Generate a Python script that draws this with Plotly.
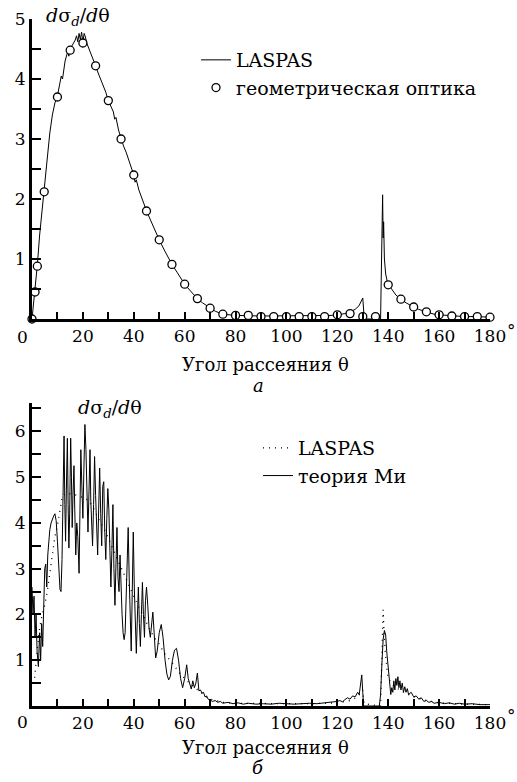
import plotly.graph_objects as go

# ---------------- data ----------------
# Panel a: LASPAS (solid line)
top_laspas_theta = [0, 0.5, 1.2, 2.1, 3, 4, 4.8, 6, 7, 8, 9, 10, 11, 11.5, 12, 12.5, 13, 14, 14.5,
                    15, 16, 17, 17.5, 18, 18.5, 19, 19.5, 20, 20.5, 21, 21.5, 22, 23, 24, 25, 26,
                    27, 28, 29, 30, 31, 32, 32.5, 33, 34, 35, 36, 37, 38, 39, 40, 40.5, 41, 42,
                    43, 44, 45, 46, 47, 48, 49, 50, 52, 55, 57, 60, 62, 65, 67, 70, 72, 75, 80,
                    90, 100, 110, 115, 118, 120, 123, 125, 127, 128.5, 129.5, 130, 130.5, 131,
                    137, 137.5, 137.8, 138, 138.2, 138.5, 139, 139.5, 140, 141, 142, 143, 145,
                    147, 150, 152, 155, 158, 160, 165, 170, 175, 180]
top_laspas_val = [0, 0.2, 0.5, 0.9, 1.4, 1.85, 2.15, 2.7, 3.1, 3.4, 3.6, 3.72, 3.95, 4.05, 4.0,
                  4.2, 4.3, 4.45, 4.38, 4.5, 4.58, 4.65, 4.72, 4.62, 4.76, 4.66, 4.78, 4.62,
                  4.76, 4.7, 4.6, 4.55, 4.45, 4.35, 4.22, 4.1, 4.0, 3.9, 3.78, 3.64, 3.55,
                  3.45, 3.33, 3.36, 3.15, 3.0, 2.88, 2.78, 2.65, 2.52, 2.4, 2.28, 2.32, 2.15,
                  2.05, 1.92, 1.8, 1.7, 1.6, 1.5, 1.4, 1.32, 1.15, 0.91, 0.78, 0.58, 0.48,
                  0.34, 0.27, 0.18, 0.13, 0.08, 0.06, 0.05, 0.05, 0.05, 0.05, 0.06, 0.07,
                  0.09, 0.12, 0.16, 0.22, 0.3, 0.35, 0.05, 0.0, 0.0, 1.0, 2.07, 1.35, 1.62,
                  1.0, 0.75, 0.65, 0.58, 0.52, 0.45, 0.4, 0.33, 0.27, 0.2, 0.16, 0.12, 0.08,
                  0.07, 0.05, 0.04, 0.04, 0.03]

# Panel a: geometrical optics (circles)
top_geo_theta = [0, 1.2, 2.1, 4.8, 10, 15, 20, 25, 30, 35, 40, 45, 50, 55, 60, 65, 70, 75, 80,
                 85, 90, 95, 100, 105, 110, 115, 120, 125, 130, 135, 140, 145, 150, 155, 160,
                 165, 170, 175, 180]
top_geo_val = [0, 0.45, 0.88, 2.12, 3.70, 4.48, 4.6, 4.22, 3.64, 3.0, 2.4, 1.8, 1.32, 0.91,
               0.58, 0.34, 0.18, 0.08, 0.06, 0.06, 0.04, 0.04, 0.04, 0.04, 0.04, 0.04, 0.07,
               0.09, 0.04, 0.04, 0.57, 0.33, 0.2, 0.12, 0.07, 0.05, 0.04, 0.04, 0.03]

# Panel b: Mie theory (solid line)
bot_mie_theta = [0.0, 0.4, 0.8, 1.2, 1.6, 2.0, 2.5, 3.0, 3.4, 3.8, 4.2, 4.6, 5.0, 5.4, 5.8,
                 6.2, 6.6, 7.0, 7.5, 8.0, 8.5, 9.0, 9.5, 10.0, 10.5, 11.0, 11.4, 11.8, 12.2,
                 12.6, 12.9, 13.2, 13.5, 13.9, 14.2, 14.5, 14.8, 15.2, 15.5, 15.8, 16.1, 16.5,
                 16.8, 17.2, 17.6, 18.0, 18.5, 18.9, 19.2, 19.6, 20.0, 20.4, 20.8, 21.2, 21.6,
                 22.0, 22.4, 22.8, 23.1, 23.4, 23.8, 24.2, 24.6, 25.0, 25.4, 25.8, 26.2, 26.6,
                 27.0, 27.4, 27.8, 28.2, 28.6, 29.0, 29.4, 29.8, 30.2, 30.6, 31.0, 31.4, 31.8,
                 32.2, 32.6, 33.0, 33.4, 33.8, 34.2, 34.6, 35.0, 35.4, 35.8, 36.2, 36.6, 37.0,
                 37.4, 37.8, 38.2, 38.6, 39.0, 39.4, 39.8, 40.2, 40.6, 41.0, 41.4, 41.8, 42.2,
                 42.6, 43.0, 43.4, 43.8, 44.2, 44.6, 45.0, 45.5, 46.0, 46.5, 47.0, 47.5, 48.0,
                 48.6, 49.2, 50.0, 50.8, 51.5, 52.3, 53.0, 53.7, 54.4, 55.2, 56.0, 56.8, 57.6,
                 58.4, 59.2, 60.0, 60.8, 61.4, 62.0, 62.6, 63.2, 63.8, 64.4, 65.0, 65.6, 66.2,
                 66.8, 67.4, 68.0, 68.6, 69.2, 70.0, 71, 72, 73, 74, 75, 77, 79, 81, 83, 85,
                 88, 91, 94, 97, 100, 103, 106, 109, 112, 115, 118, 120, 121, 122, 123, 124,
                 125, 126, 127, 128, 128.6, 129.2, 129.6, 130.0, 130.3, 136.5, 137.0, 137.5,
                 138.0, 138.5, 139.0, 139.4, 139.8, 140.2, 140.6, 141.0, 141.4, 141.8, 142.2,
                 142.6, 143.0, 143.4, 143.8, 144.2, 144.6, 145.0, 145.5, 146.0, 146.5, 147.0,
                 147.5, 148.0, 149.0, 150.0, 151, 152, 153, 154, 155, 156, 157, 158, 160, 162,
                 164, 166, 168, 170, 173, 176, 180]
bot_mie_val = [2.6, 2.0, 2.4, 1.5, 2.0, 1.2, 0.86, 1.6, 1.0, 1.8, 1.3, 2.2, 3.0, 3.1, 2.6,
               3.3, 3.6, 3.85, 4.0, 4.1, 4.15, 4.2, 4.05, 3.6, 3.0, 2.55, 2.5, 3.2, 4.6, 5.9,
               4.4, 3.6, 4.7, 5.85, 4.4, 3.45, 4.2, 5.85, 5.0, 3.9, 4.6, 5.25, 4.3, 3.3, 4.0,
               3.7, 2.9, 4.2, 5.6, 4.8, 4.1, 5.2, 6.15, 5.6, 4.6, 3.8, 4.7, 5.6, 4.5, 3.8,
               3.5, 4.4, 5.45, 4.6, 3.6, 3.3, 4.3, 5.2, 4.2, 3.5, 4.8, 4.9, 3.8, 3.2, 4.1,
               4.75, 4.3, 3.3, 2.6, 3.4, 4.4, 3.0, 2.2, 3.1, 3.9, 2.8, 2.5, 3.3, 2.4, 2.0,
               1.6, 1.45, 1.6, 2.4, 3.3, 3.9, 2.8, 1.8, 1.2, 2.5, 3.8, 2.6, 1.5, 1.15, 1.9,
               2.6, 1.8, 1.3, 2.0, 2.7, 2.0, 1.5, 2.3, 2.6, 2.2, 1.7, 1.5, 1.8, 2.05, 1.6,
               1.05, 1.2, 1.6, 1.78, 1.5, 1.0, 0.7, 0.57, 0.65, 1.0, 1.22, 1.26, 1.0, 0.6,
               0.4, 0.6, 0.9, 0.6, 0.45, 0.37, 0.55, 0.4, 0.5, 0.72, 0.33, 0.35, 0.28, 0.3,
               0.2, 0.22, 0.15, 0.13, 0.1, 0.12, 0.08, 0.1, 0.06, 0.08, 0.05, 0.07, 0.04,
               0.06, 0.04, 0.05, 0.04, 0.06, 0.05, 0.04, 0.05, 0.06, 0.05, 0.07, 0.08, 0.1,
               0.12, 0.09, 0.14, 0.18, 0.15, 0.22, 0.2, 0.3, 0.25, 0.45, 0.68, 0.3, 0.0, 0.0,
               0.25, 0.9, 1.45, 1.65, 1.55, 1.2, 1.0, 0.7, 0.45, 0.25, 0.4, 0.3, 0.55, 0.35,
               0.6, 0.45, 0.64, 0.4, 0.55, 0.35, 0.5, 0.3, 0.42, 0.3, 0.38, 0.25, 0.3, 0.2,
               0.22, 0.15, 0.18, 0.1, 0.12, 0.08, 0.1, 0.06, 0.08, 0.05, 0.07, 0.04, 0.06,
               0.04, 0.05, 0.03, 0.03]

# Panel b: LASPAS (dotted line)
bot_laspas_theta = [0, 1, 2, 3, 4, 5, 6, 7, 8, 9, 10, 11, 12, 14, 16, 18, 20, 22, 24, 26, 28,
                    30, 32, 34, 36, 38, 40, 42, 44, 46, 48, 50, 52, 55, 58, 60, 63, 65, 68,
                    70, 75, 80, 90, 100, 110, 120, 125, 128, 130, 130.5, 137, 137.6, 138.0,
                    138.3, 138.8, 139.5, 140, 142, 145, 150, 155, 160, 170, 180]
bot_laspas_val = [0.5, 0.6, 1.2, 1.7, 2.0, 2.2, 2.5, 2.9, 3.27, 3.7, 3.95, 4.3, 4.6, 4.65,
                  4.62, 4.6, 4.55, 4.5, 4.35, 4.1, 3.9, 3.67, 3.4, 3.15, 2.9, 2.65, 2.4,
                  2.15, 1.95, 1.7, 1.5, 1.35, 1.15, 0.95, 0.72, 0.6, 0.45, 0.35, 0.22, 0.15,
                  0.08, 0.06, 0.05, 0.05, 0.05, 0.07, 0.12, 0.2, 0.35, 0.05, 0.0, 1.2, 2.1,
                  1.7, 1.2, 0.8, 0.6, 0.45, 0.33, 0.2, 0.12, 0.07, 0.04, 0.03]

# tick labels
x_tickvals = [20, 40, 60, 80, 100, 120, 140, 160, 180]
x_minor = [10, 30, 50, 70, 90, 110, 130, 150, 170]
top_y_tickvals = [1, 2, 3, 4, 5]
top_y_minor = [0.5, 1.5, 2.5, 3.5, 4.5]
bot_y_tickvals = [1, 2, 3, 4, 5, 6]
bot_y_minor = [0.5, 1.5, 2.5, 3.5, 4.5, 5.5, 6.5]

legend_top = ["LASPAS", "геометрическая оптика"]
legend_bot = ["LASPAS", "теория Ми"]
x_title = "Угол рассеяния θ"
y_title = "<i>d</i>σ<sub><i>d</i></sub>/<i>d</i>θ"

# ---------------- figure ----------------
W, H = 517, 782
FONT = "DejaVu Serif"
FS_TICK = 17
FS_LEG = 19
FS_TITLE = 18

def px_x(p):
    return p / W

def px_y(p):
    return 1 - p / H

fig = go.Figure()

fig.add_trace(go.Scatter(x=top_laspas_theta, y=top_laspas_val, mode="lines",
                         line=dict(color="black", width=1), name=legend_top[0],
                         legend="legend", xaxis="x", yaxis="y", cliponaxis=False))
fig.add_trace(go.Scatter(x=top_geo_theta, y=top_geo_val, mode="markers",
                         marker=dict(symbol="circle", size=8, color="white",
                                     line=dict(color="black", width=1.3)),
                         name=legend_top[1], legend="legend",
                         xaxis="x", yaxis="y", cliponaxis=False))

fig.add_trace(go.Scatter(x=bot_laspas_theta, y=bot_laspas_val, mode="lines",
                         line=dict(color="black", width=1.3, dash="1px,5px"),
                         name=legend_bot[0], legend="legend2",
                         xaxis="x2", yaxis="y2", cliponaxis=False))
fig.add_trace(go.Scatter(x=bot_mie_theta, y=bot_mie_val, mode="lines",
                         line=dict(color="black", width=1), name=legend_bot[1],
                         legend="legend2", xaxis="x2", yaxis="y2", cliponaxis=False))

xdom = [px_x(32), px_x(490)]
axis_common = dict(showgrid=False, zeroline=False, showline=True, linecolor="black",
                   linewidth=3, ticks="inside", tickcolor="black", tickwidth=2,
                   automargin=False,
                   tickfont=dict(family=FONT, size=FS_TICK, color="black"), mirror=False)

fig.update_layout(
    template="none",
    width=W, height=H, margin=dict(l=0, r=0, t=0, b=0, pad=0), autosize=False,
    paper_bgcolor="white", plot_bgcolor="white", showlegend=True,
    font=dict(family=FONT, size=FS_TICK, color="black"),
    xaxis=dict(domain=xdom, anchor="y", range=[0, 180], tickmode="array",
               tickvals=x_tickvals, ticklen=7,
               minor=dict(tickmode="array", tickvals=x_minor, ticks="inside", ticklen=7,
                          tickwidth=2, tickcolor="black"), **axis_common),
    yaxis=dict(domain=[px_y(319), px_y(19)], anchor="x", range=[0, 5], tickmode="array",
               tickvals=top_y_tickvals, ticklen=9,
               minor=dict(tickmode="array", tickvals=top_y_minor, ticks="inside", ticklen=9,
                          tickwidth=2, tickcolor="black"), **axis_common),
    xaxis2=dict(domain=xdom, anchor="y2", range=[0, 180], tickmode="array",
                tickvals=x_tickvals, ticklen=7,
                minor=dict(tickmode="array", tickvals=x_minor, ticks="inside", ticklen=7,
                           tickwidth=2, tickcolor="black"), **axis_common),
    yaxis2=dict(domain=[px_y(706), px_y(403)], anchor="x2", range=[0, 6.62],
                tickmode="array", tickvals=bot_y_tickvals, ticklen=9,
                minor=dict(tickmode="array", tickvals=bot_y_minor, ticks="inside",
                           ticklen=9, tickwidth=2, tickcolor="black"), **axis_common),
    legend=dict(x=px_x(196), y=px_y(41), xanchor="left", yanchor="top",
                bgcolor="rgba(0,0,0,0)", font=dict(family=FONT, size=FS_LEG, color="black"),
                itemwidth=30),
    legend2=dict(x=px_x(258), y=px_y(429), xanchor="left", yanchor="top",
                 bgcolor="rgba(0,0,0,0)", font=dict(family=FONT, size=FS_LEG, color="black"),
                 itemwidth=30),
)

annots = [
    # x axis titles and panel letters
    dict(x=px_x(265), y=px_y(364), text=x_title, size=FS_TITLE),
    dict(x=px_x(258), y=px_y(385), text="<i>а</i>", size=FS_TITLE),
    dict(x=px_x(265), y=px_y(747), text=x_title, size=FS_TITLE),
    dict(x=px_x(258), y=px_y(767), text="<i>б</i>", size=FS_TITLE),
    # zero labels and degree signs
    dict(x=px_x(22), y=px_y(337), text="0", size=FS_TICK),
    dict(x=px_x(22), y=px_y(722), text="0", size=FS_TICK),
    dict(x=px_x(511), y=px_y(330), text="°", size=FS_TICK),
    dict(x=px_x(511), y=px_y(715), text="°", size=FS_TICK),
    # y titles
    dict(x=px_x(78), y=px_y(16), text=y_title, size=19),
    dict(x=px_x(110), y=px_y(409), text=y_title, size=19),
]
for a in annots:
    size = a.pop("size")
    fig.add_annotation(xref="paper", yref="paper", xanchor="center", yanchor="middle",
                       showarrow=False, font=dict(family=FONT, size=size, color="black"), **a)

fig.write_html("out.html", config={"displayModeBar": False},
               post_script="document.body.style.margin='0';document.body.style.padding='0';")
